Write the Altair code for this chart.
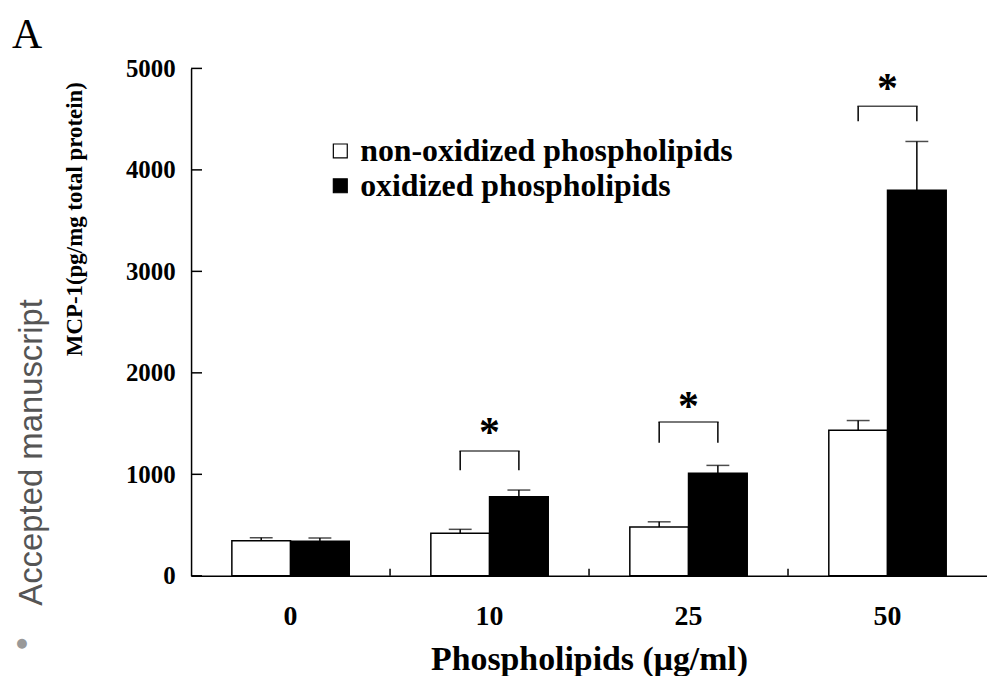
import altair as alt
import pandas as pd

# ---- data ----
doses = ["0", "10", "25", "50"]
series_names = ["non-oxidized phospholipids", "oxidized phospholipids"]
non_ox = [345, 420, 480, 1435]
non_ox_err = [30, 38, 52, 95]
ox = [340, 780, 1010, 3800]
ox_err = [32, 65, 78, 480]
y_ticks = [0, 1000, 2000, 3000, 4000, 5000]
sig_doses = ["10", "25", "50"]
bracket_top = [1229, 1516, 4627]
bracket_bottom = [1039, 1311, 4478]
star_y = [1473, 1728, 4866]

# ---- tables ----
rows = []
for i, d in enumerate(doses):
    rows.append({"dose": d, "series": series_names[0], "value": non_ox[i], "top": non_ox[i] + non_ox_err[i]})
    rows.append({"dose": d, "series": series_names[1], "value": ox[i], "top": ox[i] + ox_err[i]})
bars_df = pd.DataFrame(rows)

legs = []
for i, d in enumerate(sig_doses):
    for s in series_names:
        legs.append({"dose": d, "series": s, "y1": bracket_bottom[i], "y2": bracket_top[i]})
legs_df = pd.DataFrame(legs)
sig_df = pd.DataFrame({"dose": sig_doses, "btop": bracket_top, "star": star_y})
sep_df = pd.DataFrame({"dose": doses[1:]})
tick_df = pd.DataFrame({"tick": y_ticks})

W, H = 800, 510
SERIF = "Liberation Serif"

x_scale = alt.Scale(domain=doses, paddingInner=0, paddingOuter=0)
xoff_scale = alt.Scale(domain=series_names, paddingInner=0, paddingOuter=0.695)
y_scale = alt.Scale(domain=[0, 5000], nice=False, zero=True)

x_axis = alt.Axis(
    title="Phospholipids (μg/ml)", ticks=False, grid=False, labelAngle=0,
    labelFont=SERIF, labelFontWeight="bold", labelFontSize=28, labelColor="black",
    labelPadding=27, domainColor="black", domainWidth=1.5,
    titleFont=SERIF, titleFontWeight="bold", titleFontSize=34, titleColor="black",
    titleY=94, titleBaseline="alphabetic",
)
y_axis = alt.Axis(
    title="MCP-1(pg/mg total protein)", values=y_ticks, format="d", ticks=False, grid=False,
    labelFont=SERIF, labelFontWeight="bold", labelFontSize=25, labelColor="black",
    labelPadding=16, labelFlush=False, labelOverlap=False,
    domainColor="black", domainWidth=1.5,
    titleFont=SERIF, titleFontWeight="bold", titleFontSize=23, titleColor="black",
    titleX=-117, titleY=151, titleAngle=270, titleAlign="center", titleBaseline="middle",
)


def X(**kw):
    return alt.X("dose:N", scale=x_scale, sort=doses, axis=x_axis, **kw)


def Y(field):
    return alt.Y(f"{field}:Q", scale=y_scale, axis=y_axis)


XO = alt.XOffset("series:N", scale=xoff_scale, sort=series_names)

legend = alt.Legend(
    orient="none", legendX=134, legendY=67, title=None, symbolType="square",
    symbolSize=196, symbolStrokeColor="black", symbolStrokeWidth=1.2,
    labelFont=SERIF, labelFontWeight="bold", labelFontSize=32, labelColor="black",
    labelOffset=4, rowPadding=3, padding=0, labelLimit=0,
)

bars = alt.Chart(bars_df).mark_bar(stroke="black", strokeWidth=1.5).encode(
    x=X(), xOffset=XO, y=Y("value"),
    fill=alt.Fill("series:N", scale=alt.Scale(domain=series_names, range=["white", "black"]), legend=legend),
)
err = alt.Chart(bars_df).mark_rule(color="black", strokeWidth=1.5).encode(
    x=X(), xOffset=XO, y=Y("value"), y2="top:Q")
caps = alt.Chart(bars_df).mark_tick(orient="horizontal", size=23, thickness=1.5, color="black").encode(
    x=X(), xOffset=XO, y=Y("top"))

legs_l = alt.Chart(legs_df).mark_rule(color="black", strokeWidth=1.5).encode(
    x=X(), xOffset=XO, y=Y("y1"), y2="y2:Q")
bracket_l = alt.Chart(sig_df).mark_tick(orient="horizontal", size=60.5, thickness=1.5, color="black").encode(
    x=X(), y=Y("btop"))
stars = alt.Chart(sig_df).mark_text(
    text="*", font=SERIF, fontWeight="bold", fontSize=42, color="black",
    baseline="alphabetic", align="center", dy=20).encode(x=X(), y=Y("star"))

ytick_l = alt.Chart(tick_df).mark_rule(color="black", strokeWidth=1.5).encode(
    y=Y("tick"), x=alt.value(0), x2=alt.value(11))
sep_l = alt.Chart(sep_df).mark_rule(color="black", strokeWidth=1.5).encode(
    x=X(bandPosition=0), y=alt.value(H - 7), y2=alt.value(H))

panel = alt.Chart(pd.DataFrame({"t": ["A"]})).mark_text(
    font=SERIF, fontSize=42, color="black", align="left", baseline="alphabetic").encode(
    text="t:N", x=alt.value(-180), y=alt.value(-21))
water = alt.Chart(pd.DataFrame({"t": ["Accepted manuscript"]})).mark_text(
    font="Liberation Sans", fontSize=33, color="#555555", angle=270,
    align="center", baseline="middle").encode(
    text="t:N", x=alt.value(-160), y=alt.value(386))
bullet = alt.Chart(pd.DataFrame({"t": ["●"]})).mark_text(
    font="DejaVu Sans", fontSize=13, color="#999999", align="center", baseline="middle").encode(
    text="t:N", x=alt.value(-170), y=alt.value(578))

chart = alt.layer(
    bars, err, caps, legs_l, bracket_l, stars, ytick_l, sep_l, panel, water, bullet
).properties(
    width=W, height=H,
    padding={"left": 184, "top": 59, "right": 0, "bottom": 99},
    autosize=alt.AutoSizeParams(type="none"),
    background="white",
).configure_view(stroke=None)

chart.save("out.html", embed_options={"renderer": "svg", "actions": False})
